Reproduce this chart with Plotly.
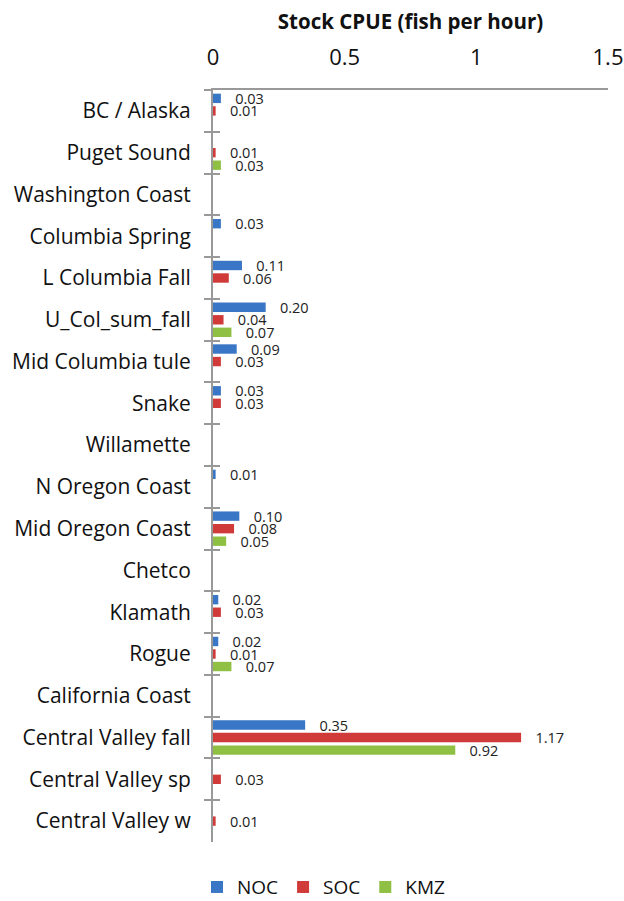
import plotly.graph_objects as go

categories = ["BC / Alaska", "Puget Sound", "Washington Coast", "Columbia Spring",
              "L Columbia Fall", "U_Col_sum_fall", "Mid Columbia tule", "Snake",
              "Willamette", "N Oregon Coast", "Mid Oregon Coast", "Chetco",
              "Klamath", "Rogue", "California Coast", "Central Valley fall",
              "Central Valley sp", "Central Valley w"]
noc = [0.03, 0, 0, 0.03, 0.11, 0.20, 0.09, 0.03, 0, 0.01, 0.10, 0, 0.02, 0.02, 0, 0.35, 0, 0]
soc = [0.01, 0.01, 0, 0, 0.06, 0.04, 0.03, 0.03, 0, 0, 0.08, 0, 0.03, 0.01, 0, 1.17, 0.03, 0.01]
kmz = [0, 0.03, 0, 0, 0, 0.07, 0, 0, 0, 0, 0.05, 0, 0, 0.07, 0, 0.92, 0, 0]
x_ticks = [0, 0.5, 1, 1.5]

series = [("NOC", noc, "#3A76C6"), ("SOC", soc, "#D03A38"), ("KMZ", kmz, "#8FC043")]
FONT = "Open Sans"
n = len(categories)

fig = go.Figure()
for name, vals, col in series:
    fig.add_trace(go.Bar(
        y=categories, x=vals, name=name, orientation="h",
        marker=dict(color=col, line=dict(width=0)),
        text=[("   %.2f" % v) if v > 0 else "" for v in vals],
        textposition="outside", cliponaxis=False, constraintext="none",
        textfont=dict(family=FONT, size=14.5, color="#222"),
    ))

# overlay axis for inside half of the crossing tick marks
fig.add_trace(go.Scatter(y=categories, x=[0] * n, yaxis="y2",
                         mode="markers", marker=dict(opacity=0, size=1), showlegend=False,
                         hoverinfo="skip"))

fig.update_layout(
    width=624, height=901,
    margin=dict(l=213, r=16, t=90, b=59, autoexpand=False),
    paper_bgcolor="white", plot_bgcolor="white",
    barmode="group", bargap=0.1, bargroupgap=0.25,
    font=dict(family=FONT, color="#111"),
    showlegend=True,
    legend=dict(orientation="h", x=0.281, xanchor="center", y=-0.06, yanchor="middle",
                font=dict(family=FONT, size=19), traceorder="normal",
                itemwidth=30),
    xaxis=dict(side="top", range=[0, 1.5], tickvals=x_ticks,
               ticktext=[str(t) for t in x_ticks],
               tickfont=dict(family=FONT, size=22, color="#111"),
               showgrid=False, zeroline=False, showline=True,
               linecolor="#999", linewidth=2, ticks="",
               ticklabelstandoff=14, automargin=False,
               title=dict(text="<b>Stock CPUE (fish per hour)</b>",
                          font=dict(family=FONT, size=20.5, color="#111"), standoff=6)),
    yaxis=dict(type="category", categoryorder="array",
               categoryarray=categories, range=[n - 0.5, -0.5],
               tickfont=dict(family=FONT, size=21, color="#111"),
               showgrid=False, zeroline=False, showline=True,
               linecolor="#999", linewidth=2,
               ticks="outside", ticklen=7, tickwidth=2, tickcolor="#999",
               tickson="boundaries", ticklabelstandoff=16, automargin=False),
    yaxis2=dict(overlaying="y", matches="y", type="category", side="left",
                showticklabels=False, showgrid=False, zeroline=False, showline=False,
                ticks="inside", ticklen=7, tickwidth=2, tickcolor="#999",
                tickson="boundaries", automargin=False),
)

fig.write_html("out.html",
               config={"displayModeBar": False},
               post_script="document.body.style.margin='0';"
                           "document.documentElement.style.overflow='hidden';")
